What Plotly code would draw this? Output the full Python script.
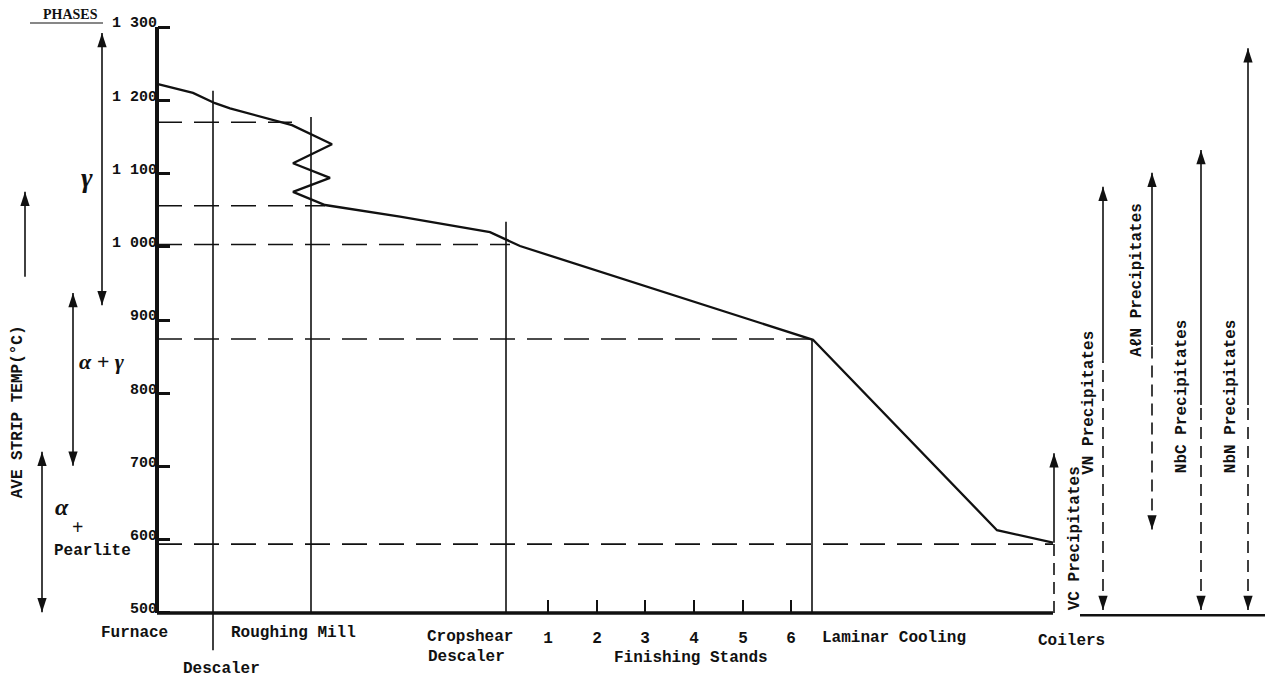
import plotly.graph_objects as go

# ---------------- data ----------------
# average strip temperature along the hot-strip mill (schematic position, °C)
curve_pos = [158, 193, 215, 230, 292, 332, 293, 330, 293, 325, 400, 490, 520, 813, 997, 1053]
curve_temp = [1222, 1210, 1196, 1189, 1166, 1140, 1114, 1094, 1075, 1057, 1041, 1020, 1001, 873, 613, 596]

# dashed temperature levels and the position where each stops
ref_temps = [1170, 1056, 1003, 874, 594]
ref_end_pos = [292, 325, 510, 813, 1053]

# vertical station marker lines
station_pos = [213, 311, 506, 812]
station_top = [1213, 1177, 1034, 873]
station_bottom = [449, 500, 500, 500]

# finishing stands (ticks on the position axis)
stand_pos = [548, 597, 645, 694, 743, 791]
stand_labels = ["1", "2", "3", "4", "5", "6"]

# temperature axis
temp_ticks = [500, 600, 700, 800, 900, 1000, 1100, 1200, 1300]
temp_tick_labels = ["500", "600", "700", "800", "900", "1 000", "1 100", "1 200", "1 300"]

# station names under the axis
station_names = ["Furnace", "Descaler", "Roughing Mill", "Cropshear", "Descaler",
                 "Finishing Stands", "Laminar Cooling", "Coilers"]
station_name_pos = [134, 221, 293, 470, 466, 691, 894, 1071]
station_name_temp = [473, 423, 473, 467, 440, 439, 466, 462]

# phase ranges (double arrows on the left)
phase_pos = [102, 73, 42]
phase_low = [920, 701, 501]
phase_high = [1292, 937, 720]

# precipitate ranges (right)
precip_names = ["VC Precipitates", "VN Precipitates", "AℓN Precipitates",
                "NbC Precipitates", "NbN Precipitates"]
precip_pos = [1054, 1103, 1152, 1201, 1248]
precip_top = [718, 1082, 1101, 1132, 1271]
precip_solid_from = [596, 845, 866, 784, 784]
precip_bottom = [500, 504, 614, 504, 504]
precip_bottom_head = [False, True, True, True, True]
precip_label_pos = [1075, 1089, 1137, 1182, 1231]
precip_label_temp = [602, 787, 955, 796, 796]

# ---------------- figure ----------------
W, H = 1276, 677
Y_RANGE = [412.6, 1336.9]
X_RANGE = [0, 1276]
AXIS_X = 157
AXIS_T = 500
MONO = "Liberation Mono"
INK = "#111111"

fig = go.Figure()

def line(xs, ys, width=1.6, dash=None):
    fig.add_trace(go.Scatter(x=xs, y=ys, mode="lines", hoverinfo="skip", showlegend=False,
                             line=dict(color=INK, width=width, dash=dash)))

heads_x, heads_y, heads_a = [], [], []

# axes lines
line([AXIS_X, AXIS_X], [AXIS_T, 1300], width=4)
line([AXIS_X, ref_end_pos[-1]], [AXIS_T, AXIS_T], width=3.5)
line([1080, 1265], [497, 497], width=2.5)

# dashed reference levels
for t, xe in zip(ref_temps, ref_end_pos):
    line([AXIS_X, xe], [t, t], width=1.6, dash="25px,12px")

# station lines
for xp, top, bot in zip(station_pos, station_top, station_bottom):
    line([xp, xp], [bot, top], width=1.6)

# temperature curve
line(curve_pos, curve_temp, width=2.3)

# phase arrows
for xp, lo, hi in zip(phase_pos, phase_low, phase_high):
    line([xp, xp], [lo, hi], width=1.6)
    heads_x += [xp, xp]; heads_y += [hi, lo]; heads_a += [0, 180]

# lone up arrow beside the title
line([25, 25], [959, 1075], width=1.6)
heads_x.append(25); heads_y.append(1075); heads_a.append(0)

# precipitate arrows
for xp, top, sf, bot, bh in zip(precip_pos, precip_top, precip_solid_from, precip_bottom, precip_bottom_head):
    line([xp, xp], [sf, top], width=1.6)
    line([xp, xp], [bot, sf], width=1.6, dash="12px,7px")
    heads_x.append(xp); heads_y.append(top); heads_a.append(0)
    if bh:
        heads_x.append(xp); heads_y.append(bot); heads_a.append(180)

fig.add_trace(go.Scatter(x=heads_x, y=heads_y, mode="markers", hoverinfo="skip", showlegend=False,
                         marker=dict(symbol="arrow", size=15, angle=heads_a, color=INK,
                                     line=dict(width=0))))

# PHASES underline
line([30, 103], [1305.5, 1305.5], width=1.2)

ann = []
def text(x, y, s, size=16, family=MONO, angle=0, bold=True, xanchor="center"):
    ann.append(dict(x=x, y=y, xref="x", yref="y", text=s, showarrow=False, textangle=angle,
                    xanchor=xanchor, yanchor="middle",
                    font=dict(family=family, size=size, color=INK, weight="bold" if bold else "normal")))

for s, xp, t in zip(station_names, station_name_pos, station_name_temp):
    text(xp, t, s)

for s, xp, t in zip(precip_names, precip_label_pos, precip_label_temp):
    text(xp, t, s, angle=-90)

text(18, 774, "AVE STRIP TEMP(°C)", size=16, angle=-90)
text(70, 1316.5, "PHASES", size=14, family="Liberation Serif")
text(87, 1095, "<i>γ</i>", size=28, family="Liberation Serif")
text(102, 843, "<i>α + γ</i>", size=22, family="Liberation Serif")
text(62, 645, "<i>α</i>", size=24, family="Liberation Serif")
text(77, 617, "+", size=20, family="Liberation Serif")
text(92, 585, "Pearlite", size=16)

fig.update_layout(
    width=W, height=H,
    margin=dict(l=0, r=0, t=0, b=0),
    paper_bgcolor="white", plot_bgcolor="white",
    showlegend=False,
    annotations=ann,
    xaxis=dict(range=X_RANGE, domain=[0, 1], anchor="free", position=64 / H,
               showgrid=False, zeroline=False, showline=False,
               tickmode="array", tickvals=stand_pos, ticktext=stand_labels,
               ticks="inside", ticklen=13, tickwidth=2, tickcolor=INK,
               ticklabelstandoff=13,
               tickfont=dict(family=MONO, size=16, color=INK, weight="bold")),
    yaxis=dict(range=Y_RANGE, domain=[0, 1], anchor="free", position=AXIS_X / W,
               showgrid=False, zeroline=False, showline=False,
               tickmode="array", tickvals=temp_ticks, ticktext=temp_tick_labels,
               ticks="inside", ticklen=12, tickwidth=2.5, tickcolor=INK,
               ticklabelshift=-5,
               tickfont=dict(family=MONO, size=15, color=INK, weight="bold")),
)

fig.write_html("out.html", config={"displayModeBar": False},
               post_script="document.body.style.margin='0';document.body.style.overflow='hidden';")
